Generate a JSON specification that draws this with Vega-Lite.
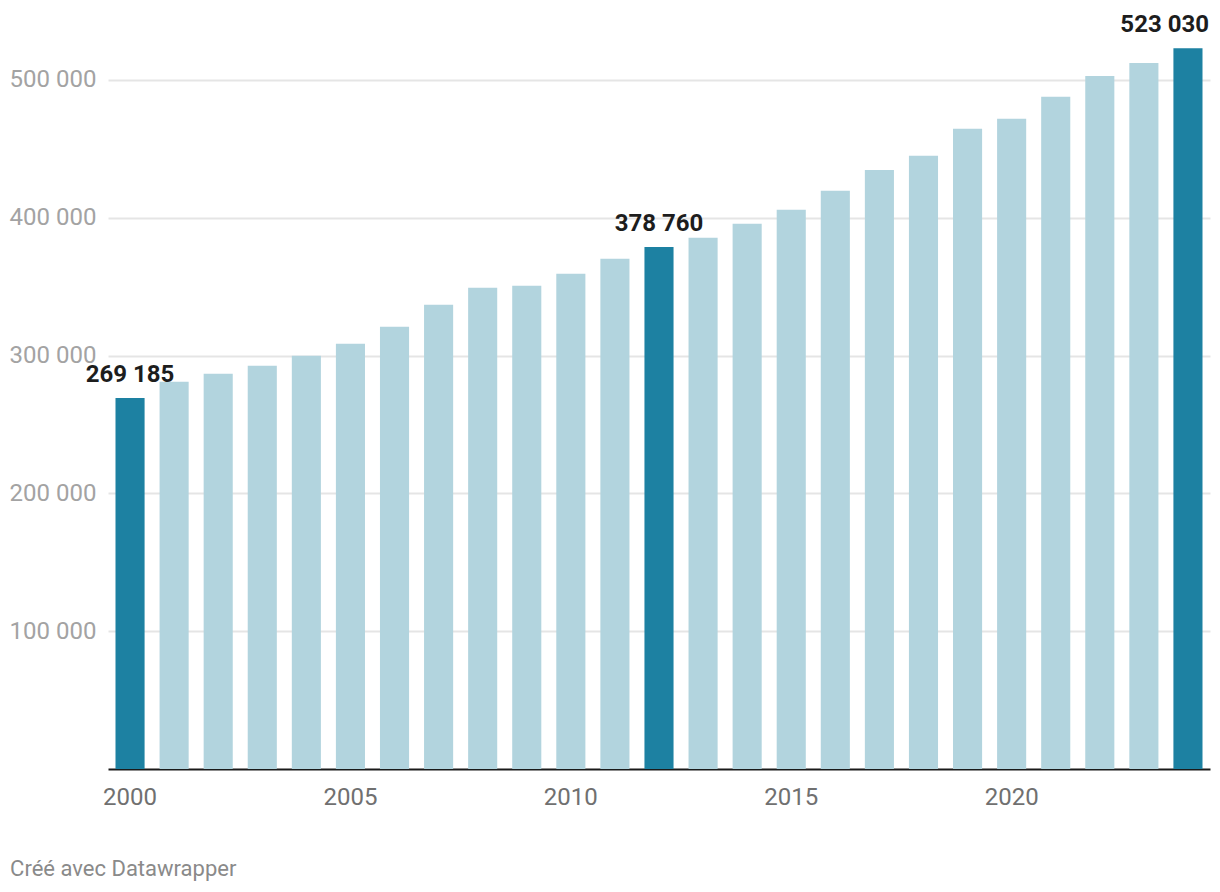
{
  "$schema": "https://vega.github.io/schema/vega-lite/v6.json",
  "width": 1102,
  "height": 758,
  "autosize": {"type": "none"},
  "padding": {"left": 108, "top": 11, "right": 10, "bottom": 123},
  "background": "#ffffff",
  "config": {
    "font": "Roboto",
    "view": {"stroke": null},
    "locale": {"number": {"decimal": ",", "thousands": " ", "grouping": [3], "currency": ["", " €"]}}
  },
  "title": {
    "text": "Créé avec Datawrapper",
    "orient": "bottom",
    "anchor": "start",
    "frame": "bounds",
    "font": "Roboto",
    "fontSize": 22,
    "fontWeight": "normal",
    "color": "#8a8a8a",
    "offset": 50,
    "dx": 1
  },
  "data": {
    "values": [
      {"year": 2000, "value": 269185},
      {"year": 2001, "value": 281000},
      {"year": 2002, "value": 286800},
      {"year": 2003, "value": 292600},
      {"year": 2004, "value": 299900},
      {"year": 2005, "value": 308600},
      {"year": 2006, "value": 320900},
      {"year": 2007, "value": 336800},
      {"year": 2008, "value": 349200},
      {"year": 2009, "value": 350600},
      {"year": 2010, "value": 359300},
      {"year": 2011, "value": 370200},
      {"year": 2012, "value": 378760},
      {"year": 2013, "value": 385400},
      {"year": 2014, "value": 395600},
      {"year": 2015, "value": 405800},
      {"year": 2016, "value": 419500},
      {"year": 2017, "value": 434700},
      {"year": 2018, "value": 444900},
      {"year": 2019, "value": 464500},
      {"year": 2020, "value": 471800},
      {"year": 2021, "value": 487700},
      {"year": 2022, "value": 502900},
      {"year": 2023, "value": 512300},
      {"year": 2024, "value": 523030}
    ]
  },
  "encoding": {
    "x": {
      "field": "year",
      "type": "ordinal",
      "scale": {"paddingInner": 0.34, "paddingOuter": 0.17},
      "axis": {
        "title": null,
        "values": [2000, 2005, 2010, 2015, 2020],
        "labelAngle": 0,
        "ticks": false,
        "domainColor": "#1a1a1a",
        "domainWidth": 2,
        "labelFont": "Roboto",
        "labelFontSize": 24,
        "labelColor": "#707070",
        "labelPadding": 16,
        "grid": false
      }
    },
    "y": {
      "field": "value",
      "type": "quantitative",
      "scale": {"domain": [0, 550000], "nice": false},
      "axis": {
        "title": null,
        "values": [100000, 200000, 300000, 400000, 500000],
        "format": ",d",
        "domain": false,
        "ticks": false,
        "grid": true,
        "gridColor": "#e5e5e5",
        "gridWidth": 2,
        "labelFont": "Roboto",
        "labelFontSize": 24,
        "labelColor": "#a3a3a3",
        "labelPadding": 12
      }
    }
  },
  "layer": [
    {
      "mark": {"type": "bar"},
      "encoding": {
        "color": {
          "condition": {"test": "datum.year == 2000 || datum.year == 2012 || datum.year == 2024", "value": "#1d81a2"},
          "value": "#b2d4de"
        }
      }
    },
    {
      "transform": [{"filter": "datum.year == 2000 || datum.year == 2012"}],
      "mark": {"type": "text", "font": "Roboto", "fontSize": 24, "fontWeight": "bold", "color": "#1d1d1d", "baseline": "alphabetic", "align": "center", "dy": -16},
      "encoding": {"text": {"field": "value", "type": "quantitative", "format": ",d"}}
    },
    {
      "transform": [{"filter": "datum.year == 2024"}],
      "mark": {"type": "text", "font": "Roboto", "fontSize": 24, "fontWeight": "bold", "color": "#1d1d1d", "baseline": "alphabetic", "align": "right", "dx": 21, "dy": -16},
      "encoding": {"text": {"field": "value", "type": "quantitative", "format": ",d"}}
    }
  ]
}
